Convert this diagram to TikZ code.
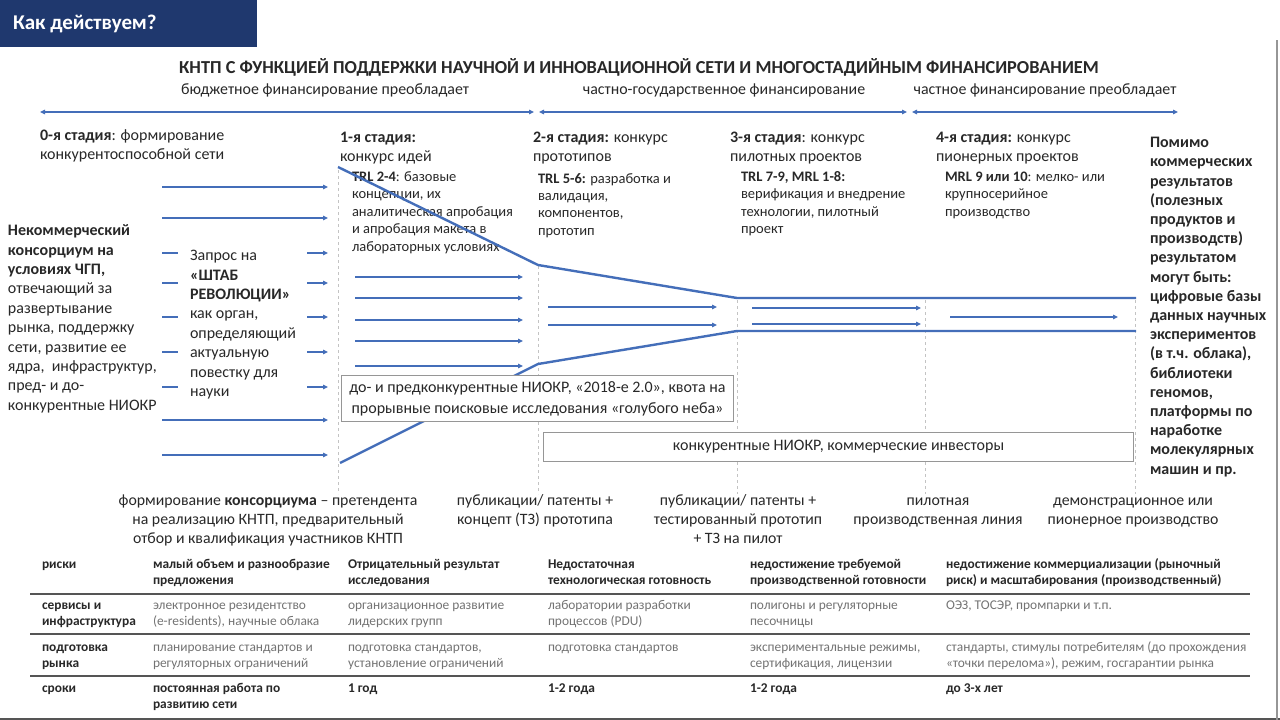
\documentclass[tikz,border=0pt]{standalone}
\usepackage{fontspec}
\setmainfont{Carlito}
\usetikzlibrary{arrows.meta}
\definecolor{navy}{RGB}{31,56,110}
\definecolor{lineblue}{RGB}{68,110,185}
\definecolor{txt}{RGB}{40,40,40}
\definecolor{tgray}{RGB}{115,115,115}
\definecolor{boxgray}{RGB}{150,150,150}
\definecolor{dashgray}{RGB}{195,195,195}
\definecolor{rulegray}{RGB}{85,85,85}
\newcommand\mlL[1]{\begin{tabular}[t]{@{}l@{}}#1\end{tabular}}
\newcommand\mlC[1]{\begin{tabular}[t]{@{}c@{}}#1\end{tabular}}
\begin{document}
\begin{tikzpicture}[x=1pt,y=-1pt,
  lbl/.style={inner sep=0pt, outer sep=0pt, text=txt, anchor=base west},
  ctr/.style={inner sep=0pt, outer sep=0pt, text=txt, anchor=base},
  plain/.style={inner sep=0pt, outer sep=0pt, text=txt, anchor=center},
  fhead/.style={font=\fontsize{16}{19}\selectfont},
  fsub/.style={font=\fontsize{14.5}{17.4}\selectfont},
  fside/.style={font=\fontsize{16}{19.4}\selectfont},
  fbside/.style={font=\fontsize{16}{19.2}\selectfont\bfseries},
  fbot/.style={font=\fontsize{15.8}{19}\selectfont},
  ftab/.style={font=\fontsize{13.4}{16.5}\selectfont},
  ftabb/.style={font=\fontsize{13.4}{16.5}\selectfont\bfseries},
  ffin/.style={font=\fontsize{15.9}{18}\selectfont},
  grey/.style={text=tgray},
  arr/.style={lineblue, line width=1.2pt, -{Triangle[length=5pt,width=4.5pt]}},
  stub/.style={lineblue, line width=1.2pt},
  darr/.style={lineblue, line width=1.2pt, {Triangle[length=5pt,width=4.5pt]}-{Triangle[length=5pt,width=4.5pt]}},
  funnel/.style={lineblue, line width=2.4pt, line join=round},
  sep/.style={dashgray, line width=0.8pt, dashed},
  boxx/.style={draw=boxgray, line width=1pt, fill=white, inner sep=0pt, anchor=north west, text=txt},
  rulel/.style={rulegray, line width=1.8pt}
]
\useasboundingbox (0,0) rectangle (1280,720);
\fill[white] (0,0) rectangle (1280,720);

% header
\fill[navy] (0,0) rectangle (257,47);
\node[plain, anchor=west, text=white, font=\fontsize{21}{24}\selectfont\bfseries] (hdr) at (13,24) {Как действуем?};

% title and financing
\node[plain, font=\fontsize{18.3}{21}\selectfont\bfseries] (title) at (639,67) {КНТП С ФУНКЦИЕЙ ПОДДЕРЖКИ НАУЧНОЙ И ИННОВАЦИОННОЙ СЕТИ И МНОГОСТАДИЙНЫМ ФИНАНСИРОВАНИЕМ};
\node[plain, ffin] (fin1) at (325,90) {бюджетное финансирование преобладает};
\node[plain, ffin] (fin2) at (724,90) {частно-государственное финансирование};
\node[plain, ffin] (fin3) at (1045,90) {частное финансирование преобладает};
\draw[darr] (40,112) -- (534,112);
\draw[darr] (539,112) -- (907,112);
\draw[darr] (912,112) -- (1178,112);

% dashed stage separators
\draw[sep] (338,170) -- (338,494);
\draw[sep] (538,266) -- (538,494);
\draw[sep] (737,300) -- (737,494);
\draw[sep] (925,300) -- (925,494);
\draw[sep] (1135,300) -- (1135,494);

% stage headings
\node[lbl, fhead] (s0) at (40,140.7) {\mlL{\textbf{0-я стадия}: формирование\\конкурентоспособной сети}};
\node[lbl, fhead] (s1) at (340,142.7) {\mlL{\textbf{1-я стадия:}\\конкурс идей}};
\node[lbl, fhead] (s2) at (533,142.7) {\mlL{\textbf{2-я стадия:} конкурс\\прототипов}};
\node[lbl, fhead] (s3) at (730,142.7) {\mlL{\textbf{3-я стадия}: конкурс\\пилотных проектов}};
\node[lbl, fhead] (s4) at (936,142.7) {\mlL{\textbf{4-я стадия:} конкурс\\пионерных проектов}};

% stage details
\node[lbl, fsub] (t1) at (352,181.4) {\mlL{\textbf{TRL 2-4}: базовые\\концепции, их\\аналитическая апробация\\и апробация макета в\\лабораторных условиях}};
\node[lbl, fsub] (t2) at (538,183) {\mlL{\textbf{TRL 5-6:} разработка и\\валидация,\\компонентов,\\прототип}};
\node[lbl, fsub] (t3) at (741,181.4) {\mlL{\textbf{TRL 7-9, MRL 1-8:}\\верификация и внедрение\\технологии, пилотный\\проект}};
\node[lbl, fsub] (t4) at (945,181.4) {\mlL{\textbf{MRL 9 или 10}: мелко- или\\крупносерийное\\производство}};

% left texts
\node[lbl, fside] (cons) at (8,235.7) {\mlL{\textbf{Некоммерческий}\\\textbf{консорциум на}\\\textbf{условиях ЧГП,}\\отвечающий за\\развертывание\\рынка, поддержку\\сети, развитие ее\\ядра,\ \ инфраструктур,\\пред- и до-\\конкурентные НИОКР}};
\node[lbl, fside] (shtab) at (190,260.7) {\mlL{Запрос на\\\textbf{«ШТАБ}\\\textbf{РЕВОЛЮЦИИ»}\\как орган,\\определяющий\\актуальную\\повестку для\\науки}};

% right text
\node[lbl, fbside] (res) at (1150,147.7) {\mlL{Помимо\\коммерческих\\результатов\\(полезных\\продуктов и\\производств)\\результатом\\могут быть:\\цифровые базы\\данных научных\\экспериментов\\(в т.ч. облака),\\библиотеки\\геномов,\\платформы по\\наработке\\молекулярных\\машин и пр.}};

% stage 0 arrows
\foreach \y in {187,218,420,455} {\draw[arr] (162,\y) -- (328,\y);}
\foreach \y in {253,283,317,352,387} {\draw[stub] (162,\y) -- (178,\y); \draw[arr] (307,\y) -- (328,\y);}
% stage 1 arrows
\foreach \y in {277,298,320,341,366} {\draw[arr] (355,\y) -- (523,\y);}
% stage 2 arrows
\foreach \y in {307,325} {\draw[arr] (548,\y) -- (717,\y);}
% stage 3 arrows
\foreach \y in {308,324} {\draw[arr] (752,\y) -- (921,\y);}
% stage 4 arrow
\draw[arr] (950,317) -- (1118,317);

% funnel
\draw[funnel] (338,167) -- (538,265) -- (737,298) -- (1136,298);
\draw[funnel] (340,463) -- (538,364) -- (737,331) -- (1136,331);

% boxes
\node[boxx, minimum width=392pt, minimum height=46pt, align=center, font=\fontsize{16}{21}\selectfont] (box1) at (341,375) {до- и предконкурентные НИОКР, «2018-е 2.0», квота на\\прорывные поисковые исследования «голубого неба»};
\node[boxx, minimum width=590pt, minimum height=29pt, font=\fontsize{16}{18}\selectfont] (box2) at (543,432) {конкурентные НИОКР, коммерческие инвесторы};

% bottom labels
\node[ctr, fbot] (b0) at (268,505.7) {\mlC{формирование \textbf{консорциума} – претендента\\на реализацию КНТП, предварительный\\отбор и квалификация участников КНТП}};
\node[ctr, fbot] (b1) at (535,505.7) {\mlC{публикации/ патенты +\\концепт (ТЗ) прототипа}};
\node[ctr, fbot] (b2) at (738,505.7) {\mlC{публикации/ патенты +\\тестированный прототип\\+ ТЗ на пилот}};
\node[ctr, fbot] (b3) at (938,505.7) {\mlC{пилотная\\производственная линия}};
\node[ctr, fbot] (b4) at (1133,505.7) {\mlC{демонстрационное или\\пионерное производство}};

% table row 1
\node[lbl, ftabb] (r1c1) at (42,568.1) {\mlL{риски}};
\node[lbl, ftabb] (r1c2) at (153,568.1) {\mlL{малый объем и разнообразие\\предложения}};
\node[lbl, ftabb] (r1c3) at (348,568.1) {\mlL{Отрицательный результат\\исследования}};
\node[lbl, ftabb] (r1c4) at (548,568.1) {\mlL{Недостаточная\\технологическая готовность}};
\node[lbl, ftabb] (r1c5) at (750,568.1) {\mlL{недостижение требуемой\\производственной готовности}};
\node[lbl, ftabb] (r1c6) at (946,568.1) {\mlL{недостижение коммерциализации (рыночный\\риск) и масштабирования (производственный)}};
\draw[rulel] (30,594) -- (1250,594);
% row 2
\node[lbl, ftabb] (r2c1) at (42,609.1) {\mlL{сервисы и\\инфраструктура}};
\node[lbl, ftab, grey] (r2c2) at (153,609.1) {\mlL{электронное резидентство\\(e-residents), научные облака}};
\node[lbl, ftab, grey] (r2c3) at (348,609.1) {\mlL{организационное развитие\\лидерских групп}};
\node[lbl, ftab, grey] (r2c4) at (548,609.1) {\mlL{лаборатории разработки\\процессов (PDU)}};
\node[lbl, ftab, grey] (r2c5) at (750,609.1) {\mlL{полигоны и регуляторные\\песочницы}};
\node[lbl, ftab, grey] (r2c6) at (946,609.1) {\mlL{ОЭЗ, ТОСЭР, промпарки и т.п.}};
\draw[rulel] (30,634) -- (1250,634);
% row 3
\node[lbl, ftabb] (r3c1) at (42,651.1) {\mlL{подготовка\\рынка}};
\node[lbl, ftab, grey] (r3c2) at (153,651.1) {\mlL{планирование стандартов и\\регуляторных ограничений}};
\node[lbl, ftab, grey] (r3c3) at (348,651.1) {\mlL{подготовка стандартов,\\установление ограничений}};
\node[lbl, ftab, grey] (r3c4) at (548,651.1) {\mlL{подготовка стандартов}};
\node[lbl, ftab, grey] (r3c5) at (750,651.1) {\mlL{экспериментальные режимы,\\сертификация, лицензии}};
\node[lbl, ftab, grey] (r3c6) at (946,651.1) {\mlL{стандарты, стимулы потребителям (до прохождения\\«точки перелома»), режим, госгарантии рынка}};
\draw[rulel] (30,676) -- (1250,676);
% row 4
\node[lbl, ftabb] (r4c1) at (42,692.1) {\mlL{сроки}};
\node[lbl, ftabb] (r4c2) at (153,692.1) {\mlL{постоянная работа по\\развитию сети}};
\node[lbl, ftabb] (r4c3) at (348,692.1) {\mlL{1 год}};
\node[lbl, ftabb] (r4c4) at (548,692.1) {\mlL{1-2 года}};
\node[lbl, ftabb] (r4c5) at (750,692.1) {\mlL{1-2 года}};
\node[lbl, ftabb] (r4c6) at (946,692.1) {\mlL{до 3-х лет}};

% slide borders
\draw[rulegray, line width=2pt] (0,719) -- (1280,719);
\draw[boxgray, line width=1.5pt] (1277,40) -- (1277,720);
\end{tikzpicture}
\end{document}
